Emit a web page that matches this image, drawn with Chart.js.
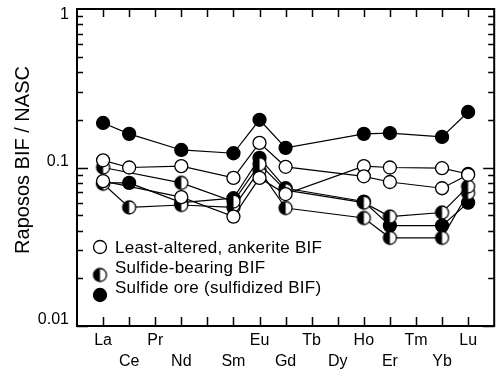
<!DOCTYPE html>
<html>
<head>
<meta charset="utf-8">
<script src="https://cdn.jsdelivr.net/npm/chart.js@4"></script>
<style>
  html, body { margin: 0; padding: 0; background: #fff; }
  #box { width: 502px; height: 372px; }
</style>
</head>
<body>
<div id="box"><canvas id="reeChart"></canvas></div>
<script>
// 元素の並び（Pmは目盛だけでラベルなし）
const elements = ['La', 'Ce', 'Pr', 'Nd', 'Pm', 'Sm', 'Eu', 'Gd', 'Tb', 'Dy', 'Ho', 'Er', 'Tm', 'Yb', 'Lu'];
const xTickLabels = ['La', 'Ce', 'Pr', 'Nd', '', 'Sm', 'Eu', 'Gd', 'Tb', 'Dy', 'Ho', 'Er', 'Tm', 'Yb', 'Lu'];
const yTickValues = [0.01, 0.1, 1];
const yTickLabels = ['0.01', '0.1', '1'];
const yTitle = 'Raposos BIF / NASC';
const legendLabels = ['Least-altered, ankerite BIF', 'Sulfide-bearing BIF', 'Sulfide ore (sulfidized BIF)'];

// 試料ごとの値（測定のない元素はnull）
//                 La     Ce     Pr    Nd     Pm    Sm     Eu     Gd     Tb    Dy    Ho     Er     Tm    Yb     Lu
const oreA      = [0.191, 0.163, null, 0.129, null, 0.123, 0.200, 0.133, null, null, 0.163, 0.165, null, 0.156, 0.224];
const leastA    = [0.111, 0.100, null, 0.102, null, 0.086, 0.143, 0.101, null, null, 0.088, 0.081, null, 0.074, 0.090];
const leastB    = [0.082, null,  null, 0.065, null, 0.049, 0.086, 0.068, null, null, 0.102, 0.100, null, 0.099, 0.091];
const bearingA  = [0.100, null,  null, 0.080, null, 0.061, 0.105, 0.072, null, null, 0.060, 0.049, null, 0.052, 0.076];
const bearingB  = [0.079, 0.056, null, 0.058, null, 0.056, 0.096, 0.0555, null, null, 0.048, 0.036, null, 0.036, 0.069];
const oreB      = [0.080, 0.080, null, 0.060, null, 0.064, 0.115, 0.074, null, null, 0.061, 0.043, null, 0.043, 0.060];

const FONT = "'Liberation Sans', Arial, sans-serif";
const DOT_R = 6.5;

// 半分塗りの記号（左半分が黒）
function makeHalfDot(r) {
  const size = Math.ceil(r * 2 + 4);
  const c = document.createElement('canvas');
  c.width = size;
  c.height = size;
  const g = c.getContext('2d');
  const m = size / 2;
  g.fillStyle = '#fff';
  g.beginPath();
  g.arc(m, m, r, 0, Math.PI * 2);
  g.fill();
  g.fillStyle = '#000';
  g.beginPath();
  g.arc(m, m, r, Math.PI / 2, Math.PI * 3 / 2);
  g.closePath();
  g.fill();
  g.lineWidth = 1.3;
  g.strokeStyle = '#000';
  g.beginPath();
  g.arc(m, m, r, 0, Math.PI * 2);
  g.stroke();
  return c;
}
const halfDot = makeHalfDot(DOT_R);

function buildDataset(values, kind) {
  const points = [];
  values.forEach((v, i) => {
    if (v !== null) points.push({ x: i, y: v });
  });
  return {
    data: points,
    borderColor: '#000',
    borderWidth: 1.2,
    pointRadius: DOT_R,
    pointBorderWidth: 1.3,
    pointBorderColor: '#000',
    pointBackgroundColor: kind === 'filled' ? '#000' : '#fff',
    pointStyle: kind === 'half' ? halfDot : 'circle',
    tension: 0,
  };
}

// 枠・目盛・文字を描くプラグイン
const framePlugin = {
  id: 'frame',
  afterDraw(chart) {
    const ctx = chart.ctx;
    const a = chart.chartArea;
    const xs = chart.scales.x;
    const ys = chart.scales.y;
    ctx.save();
    ctx.strokeStyle = '#000';
    ctx.lineWidth = 2;
    ctx.strokeRect(a.left, a.top, a.right - a.left, a.bottom - a.top);

    // 上下の目盛
    ctx.lineWidth = 1.5;
    ctx.beginPath();
    elements.forEach((el, i) => {
      const px = Math.round(xs.getPixelForValue(i)) + 0.5;
      ctx.moveTo(px, a.top);
      ctx.lineTo(px, a.top + 8);
      ctx.moveTo(px, a.bottom);
      ctx.lineTo(px, a.bottom - 9);
    });
    // 左右の対数目盛
    [0.01, 0.1].forEach((d) => {
      for (let m = 1; m <= 9; m++) {
        const py = Math.round(ys.getPixelForValue(m * d)) + 0.5;
        const len = m === 1 ? 11 : 6;
        ctx.moveTo(a.left, py);
        ctx.lineTo(a.left + len, py);
        ctx.moveTo(a.right, py);
        ctx.lineTo(a.right - len, py);
      }
    });
    ctx.stroke();

    ctx.fillStyle = '#000';
    // y軸の数字（上端の「1」は枠の内側に下げる）
    ctx.font = '16px ' + FONT;
    ctx.textAlign = 'right';
    ctx.textBaseline = 'middle';
    yTickValues.forEach((v, i) => {
      const py = Math.max(ys.getPixelForValue(v) - 6, a.top + 6);
      ctx.fillText(yTickLabels[i], 69, py);
    });

    // x軸の元素名（2段）
    ctx.font = '16px ' + FONT;
    ctx.textAlign = 'center';
    xTickLabels.forEach((lab, i) => {
      if (!lab) return;
      const py = i % 2 === 0 ? a.bottom + 15 : a.bottom + 36;
      ctx.fillText(lab, xs.getPixelForValue(i), py);
    });

    // y軸タイトル
    ctx.save();
    ctx.translate(23, 160);
    ctx.rotate(-Math.PI / 2);
    ctx.font = '20px ' + FONT;
    ctx.fillText(yTitle, 0, 0);
    ctx.restore();

    // 凡例
    const lx = 100;
    const symY = [247, 275, 295];
    const textY = [248, 268, 288];
    ctx.lineWidth = 1.3;
    ctx.beginPath();
    ctx.arc(lx, symY[0], DOT_R, 0, Math.PI * 2);
    ctx.fillStyle = '#fff';
    ctx.fill();
    ctx.stroke();
    ctx.drawImage(halfDot, lx - halfDot.width / 2, symY[1] - halfDot.height / 2);
    ctx.beginPath();
    ctx.arc(lx, symY[2], DOT_R, 0, Math.PI * 2);
    ctx.fillStyle = '#000';
    ctx.fill();
    ctx.stroke();

    ctx.fillStyle = '#000';
    ctx.font = '17px ' + FONT;
    ctx.textAlign = 'left';
    if ('letterSpacing' in ctx) ctx.letterSpacing = '0.25px';
    legendLabels.forEach((t, i) => {
      ctx.fillText(t, 115, textY[i]);
    });
    ctx.restore();
  },
};

function drawChart() {
  const ctx = document.getElementById('reeChart').getContext('2d');
  return new Chart(ctx, {
    type: 'line',
    data: {
      datasets: [
        buildDataset(oreA, 'filled'),
        buildDataset(leastA, 'open'),
        buildDataset(leastB, 'open'),
        buildDataset(bearingA, 'half'),
        buildDataset(bearingB, 'half'),
        buildDataset(oreB, 'filled'),
      ],
    },
    options: {
      responsive: true,
      maintainAspectRatio: false,
      animation: false,
      devicePixelRatio: 1,
      layout: { padding: { left: 77, right: 1, top: 9, bottom: 46 } },
      plugins: { legend: { display: false }, tooltip: { enabled: false } },
      scales: {
        x: { type: 'linear', min: -1, max: 15, display: false },
        y: { type: 'logarithmic', min: 0.01, max: 1, display: false },
      },
    },
    plugins: [framePlugin],
  });
}

window.addEventListener('DOMContentLoaded', () => {
  drawChart();
});
</script>
</body>
</html>
